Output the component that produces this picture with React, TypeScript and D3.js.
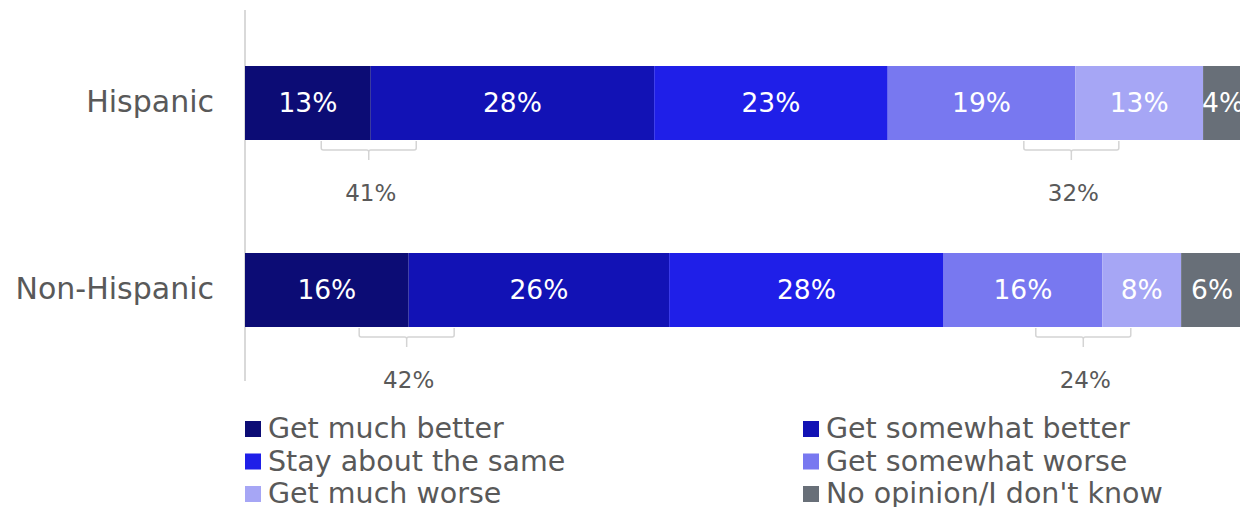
import React from "react";
import * as d3 from "d3";

const categories = ["Hispanic", "Non-Hispanic"];
const seriesNames = [
  "Get much better",
  "Get somewhat better",
  "Stay about the same",
  "Get somewhat worse",
  "Get much worse",
  "No opinion/I don't know",
];
const hispanicValues = [12.6, 28.4, 23.4, 18.8, 12.8, 4.0];
const nonHispanicValues = [16.4, 26.1, 27.5, 15.9, 7.9, 6.2];
const hispanicLabels = ["13%", "28%", "23%", "19%", "13%", "4%"];
const nonHispanicLabels = ["16%", "26%", "28%", "16%", "8%", "6%"];
const betterTotals = ["41%", "42%"];
const worseTotals = ["32%", "24%"];

const colors = ["#0c0c75", "#1212b5", "#1f1fe8", "#7878f0", "#a6a6f5", "#686f78"];
const FONT = "'DejaVu Sans', sans-serif";
const GRAY = "#595959";

export default function App() {
  const W = 1240, H = 507;
  const x = d3.scaleLinear().domain([0, 100]).range([245, 1243]);
  const y = d3.scalePoint<string>().domain(categories).range([103, 290]);
  const barH = 74;
  const rows = [
    { cat: categories[0], values: hispanicValues, labels: hispanicLabels, better: betterTotals[0], worse: worseTotals[0] },
    { cat: categories[1], values: nonHispanicValues, labels: nonHispanicLabels, better: betterTotals[1], worse: worseTotals[1] },
  ];

  const bracket = (cx: number, top: number, key: string, label: string) => {
    const hw = 47.5;
    const d = `M${cx - hw},${top + 1} L${cx - hw},${top + 8} Q${cx - hw},${top + 10} ${cx - hw + 2},${top + 10} L${cx - 2},${top + 10} Q${cx},${top + 10} ${cx},${top + 12} L${cx},${top + 20} M${cx},${top + 12} Q${cx},${top + 10} ${cx + 2},${top + 10} L${cx + hw - 2},${top + 10} Q${cx + hw},${top + 10} ${cx + hw},${top + 8} L${cx + hw},${top + 1}`;
    return (
      <g key={key}>
        <path d={d} fill="none" stroke="#d4d4d4" strokeWidth={1.5} />
        <text x={cx + 2} y={top + 54} textAnchor="middle" dominantBaseline="middle" fontSize={23} fill={GRAY} fontFamily={FONT}>
          {label}
        </text>
      </g>
    );
  };

  return (
    <svg width={W} height={H} style={{ position: "absolute", left: 0, top: 0 }}>
      <rect width={W} height={H} fill="#ffffff" />
      <line x1={245} x2={245} y1={10} y2={381} stroke="#d9d9d9" strokeWidth={2} />
      {rows.map((r, ri) => {
        const cy = y(r.cat)!;
        const top = cy - barH / 2;
        let cum = 0;
        const segs = r.values.map((v, i) => {
          const x0 = x(cum);
          cum += v;
          const x1 = x(cum);
          return { x0, x1, i, label: r.labels[i] };
        });
        const betterEdge = x(r.values[0]);
        const worseEdge = x(d3.sum(r.values.slice(0, 4)));
        return (
          <g key={r.cat}>
            <text x={214} y={cy} textAnchor="end" dominantBaseline="middle" fontSize={30} fill={GRAY} fontFamily={FONT}>
              {r.cat}
            </text>
            {segs.map((s) => (
              <rect key={s.i} x={s.x0} y={top} width={s.x1 - s.x0} height={barH} fill={colors[s.i]} />
            ))}
            {segs.map((s) => (
              <text key={"t" + s.i} x={(s.x0 + s.x1) / 2} y={cy + 1} textAnchor="middle" dominantBaseline="middle" fontSize={26.5} fill="#ffffff" fontFamily={FONT}>
                {s.label}
              </text>
            ))}
            {bracket(betterEdge - 2, top + barH, "b", r.better)}
            {bracket(worseEdge - (ri === 0 ? 4 : 19), top + barH, "w", r.worse)}
          </g>
        );
      })}
      {seriesNames.map((name, i) => {
        const col = i % 2;
        const row = Math.floor(i / 2);
        const lx = col === 0 ? 245 : 803;
        const ly = 429 + row * 32.5;
        return (
          <g key={name}>
            <rect x={lx} y={ly - 8} width={16} height={16} fill={colors[i]} />
            <text x={lx + 23} y={ly + 1} dominantBaseline="middle" fontSize={28.5} fill={GRAY} fontFamily={FONT}>
              {name}
            </text>
          </g>
        );
      })}
    </svg>
  );
}
